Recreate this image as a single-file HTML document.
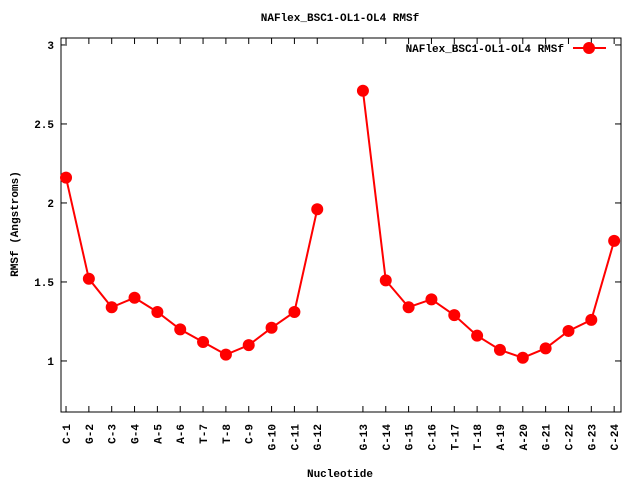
<!DOCTYPE html>
<html><head><meta charset="utf-8"><style>
body{margin:0;background:#fff}
svg text{font-family:"Liberation Mono",monospace;font-weight:bold;font-size:11px;fill:#000}
</style></head><body>
<svg id="chart" width="640" height="480" xmlns="http://www.w3.org/2000/svg">
<rect width="640" height="480" fill="#fff"/>
<text x="340" y="21" text-anchor="middle">NAFlex_BSC1-OL1-OL4 RMSf</text>
<text transform="translate(18,224) rotate(-90)" text-anchor="middle">RMSf (Angstroms)</text>
<text x="340" y="477" text-anchor="middle">Nucleotide</text>
<g id="axes"></g>
<g id="series"></g>
<g>
<text x="564" y="52" text-anchor="end">NAFlex_BSC1-OL1-OL4 RMSf</text>
<line x1="573" y1="48" x2="606" y2="48" stroke="#f00" stroke-width="2"/>
<circle cx="589" cy="48" r="6" fill="#f00"/>
</g>
</svg>
<script>
const categories=["C-1","G-2","C-3","G-4","A-5","A-6","T-7","T-8","C-9","G-10","C-11","G-12","G-13","C-14","G-15","C-16","T-17","T-18","A-19","A-20","G-21","C-22","G-23","C-24"];
const positions=[1,2,3,4,5,6,7,8,9,10,11,12,14,15,16,17,18,19,20,21,22,23,24,25];
const rmsf=[2.16,1.52,1.34,1.40,1.31,1.20,1.12,1.04,1.10,1.21,1.31,1.96,2.71,1.51,1.34,1.39,1.29,1.16,1.07,1.02,1.08,1.19,1.26,1.76];
const yTicks=[1,1.5,2,2.5,3];
const yTickLabels=["1","1.5","2","2.5","3"];
const NS="http://www.w3.org/2000/svg";
const L=61,R=621,T=38,B=412;
const xMin=0.78,xMax=25.3,yMin=0.677,yMax=3.044;
const X=v=>L+(v-xMin)/(xMax-xMin)*(R-L);
const Y=v=>B-(v-yMin)/(yMax-yMin)*(B-T);
function mk(tag,attrs,parent){const e=document.createElementNS(NS,tag);for(const k in attrs)e.setAttribute(k,attrs[k]);parent.appendChild(e);return e;}
const ax=document.getElementById('axes');
const frame=mk('rect',{x:L,y:T,width:R-L,height:B-T,fill:'none',stroke:'#000','stroke-width':1},ax);


yTicks.forEach((t,i)=>{
 const y=Y(t);
 mk('line',{x1:L,y1:y,x2:L+6,y2:y,stroke:'#000'},ax);
 mk('line',{x1:R,y1:y,x2:R-6,y2:y,stroke:'#000'},ax);
 const tx=mk('text',{x:L-7,y:y+4,'text-anchor':'end'},ax);
 tx.textContent=yTickLabels[i];
 
 
});
categories.forEach((c,i)=>{
 const x=X(positions[i]);
 mk('line',{x1:x,y1:B,x2:x,y2:B-6,stroke:'#000'},ax);
 mk('line',{x1:x,y1:T,x2:x,y2:T+6,stroke:'#000'},ax);
 const tx=mk('text',{transform:`translate(${x+4},${B+12}) rotate(-90)`,'text-anchor':'end'},ax);
 tx.textContent=c;
 
 
});
const sg=document.getElementById('series');
let segs=[[]];
positions.forEach((p,i)=>{
 if(i>0&&p-positions[i-1]>1)segs.push([]);
 segs[segs.length-1].push(X(p)+','+Y(rmsf[i]));
});
segs.forEach(s=>{
 const pl=mk('polyline',{points:s.join(' '),fill:'none',stroke:'#f00','stroke-width':2},sg);
 
 
});
positions.forEach((p,i)=>{
 const c=mk('circle',{cx:X(p),cy:Y(rmsf[i]),r:6,fill:'#f00'},sg);
 
 
});
</script>
</body></html>
